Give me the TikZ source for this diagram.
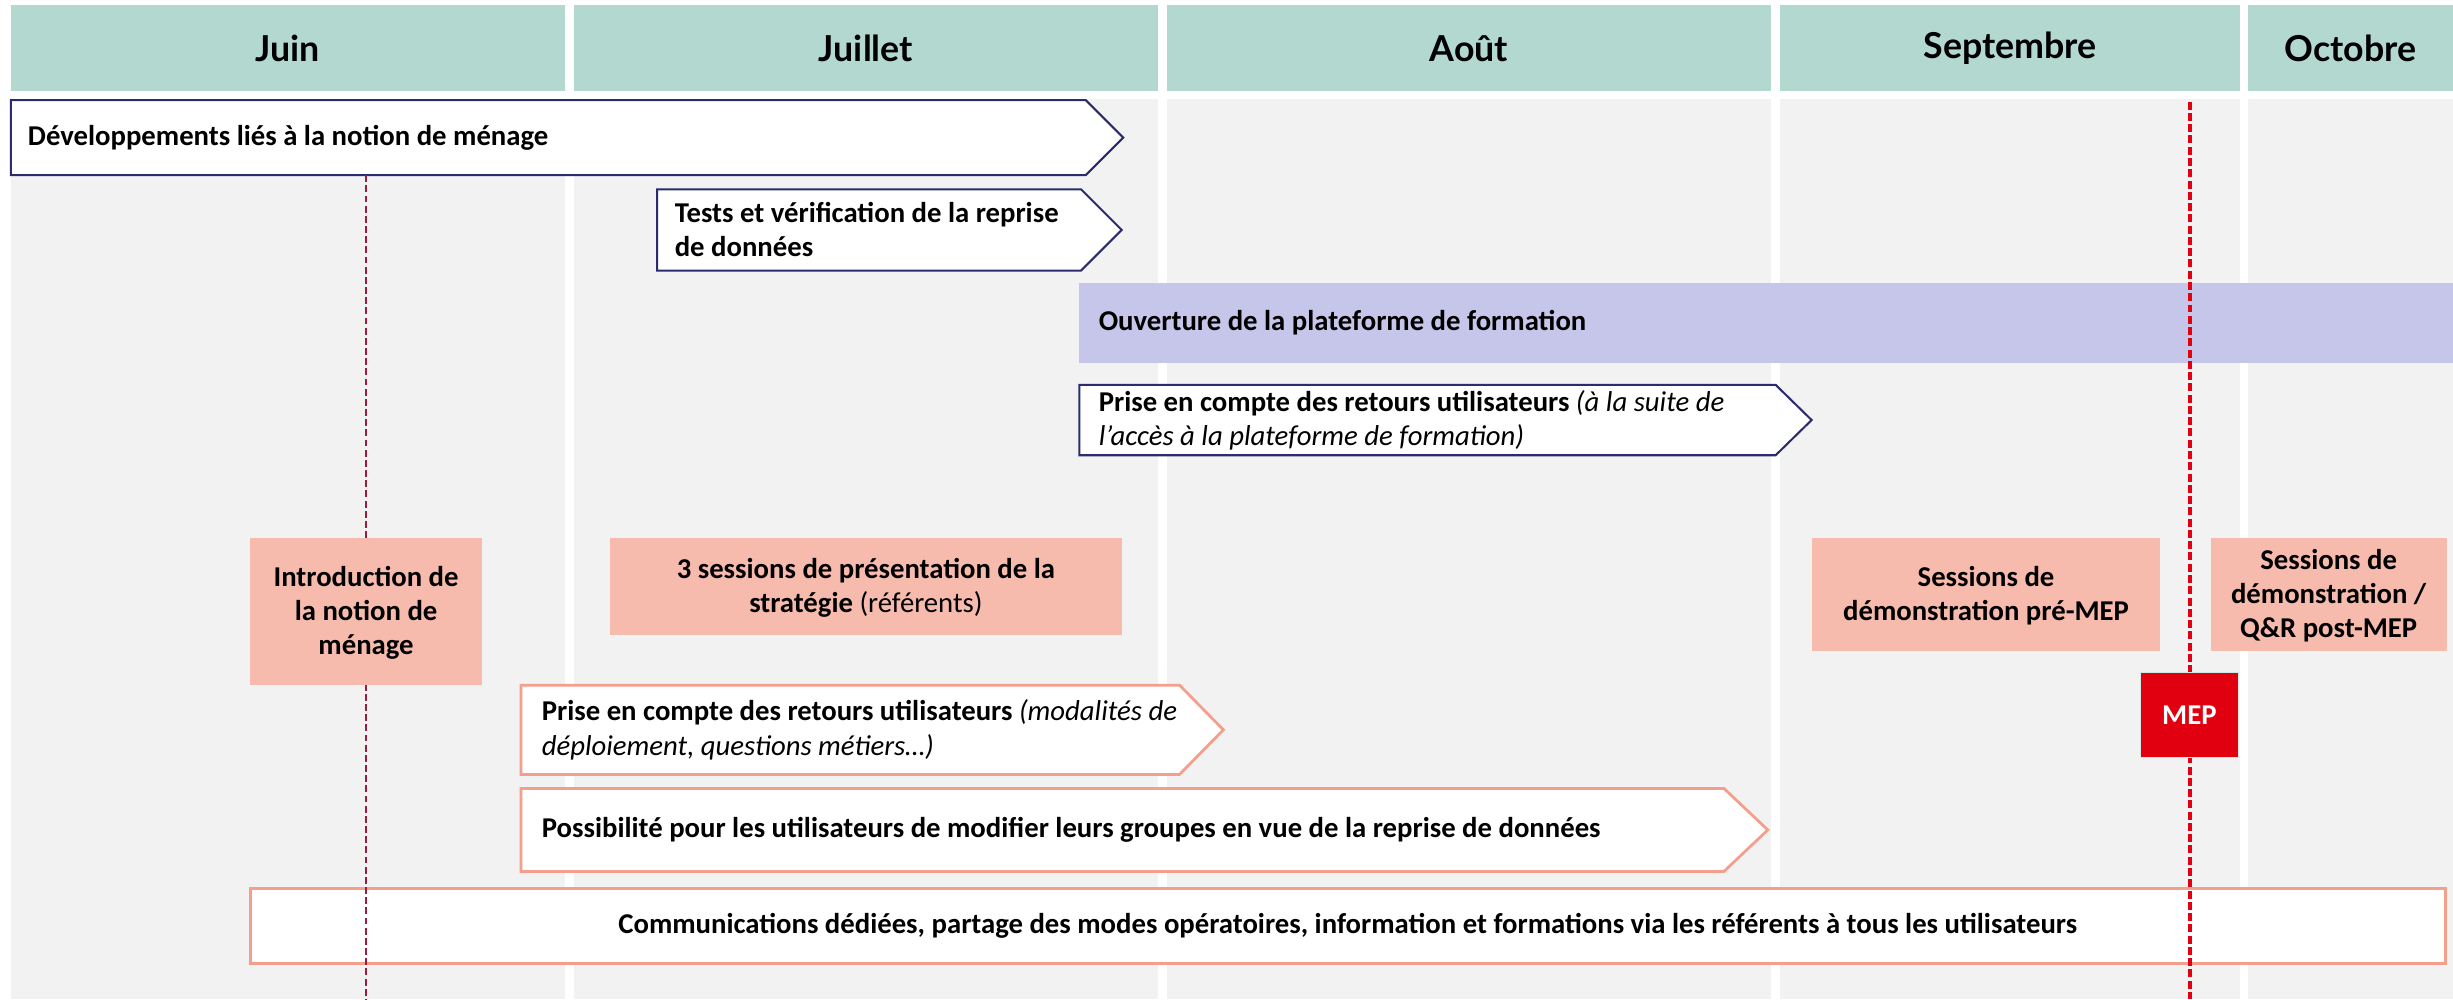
\documentclass[tikz,border=0pt]{standalone}
\usepackage{fontspec}
\setmainfont{Carlito}
\newfontfamily\moisfont{Lato}
\usepackage{xcolor}
\definecolor{tteal}{HTML}{B2D8D0}
\definecolor{ggris}{HTML}{F2F2F2}
\definecolor{nnavy}{HTML}{2A2C6B}
\definecolor{llavande}{HTML}{C5C6E9}
\definecolor{ssaumon}{HTML}{F7BBAD}
\definecolor{ssaumonf}{HTML}{F49E8C}
\definecolor{rrouge}{HTML}{E1000F}
\definecolor{bbordeaux}{HTML}{9B1C3C}
\usepackage{tikz}
\usetikzlibrary{positioning}

\begin{document}
\begin{tikzpicture}[
    x=0.02cm, y=-0.02cm,
    mois/.style={font=\moisfont\bfseries\fontsize{13}{15}\selectfont},
    txt/.style={font=\fontsize{10.45}{12.4}\selectfont\bfseries, inner sep=0pt, align=left, anchor=west},
    ctxt/.style={font=\fontsize{10.45}{12.4}\selectfont\bfseries, inner sep=0pt, align=center},
    navyarrow/.style={draw=nnavy, fill=white, line width=0.75pt},
    saumonarrow/.style={draw=ssaumonf, fill=white, line width=1pt},
  ]
  \useasboundingbox[fill=white] (0,0) rectangle (1568,638.6);
  % mois
  \foreach \xa/\xb/\mois/\id in {7/361/Juin/jun, 367/740/Juillet/jul, 746/1132/Août/aou, 1138/1432/Septembre/sep, 1437/1568/Octobre/oct}{
    \fill[ggris] (\xa,63.5) rectangle (\xb,638.6);
    \fill[tteal] (\xa,3.2) rectangle (\xb,58);
    \node[mois] (mois-\id) at ({(\xa+\xb)/2},31) {\mois};
  }
  % phases
  \draw[navyarrow] (7,64) -- (694,64) -- (718,88) -- (694,112) -- (7,112) -- cycle;
  \node[txt] (dev) at (17.5,88) {Développements liés à la notion de ménage};
  \draw[navyarrow] (420,121) -- (691,121) -- (717,147) -- (691,173) -- (420,173) -- cycle;
  \node[txt] (tests) at (431,147) {Tests et vérification de la reprise\\de données};
  \fill[llavande] (690,181) rectangle (1568,232);
  \node[txt] (ouverture) at (702,206) {Ouverture de la plateforme de formation};
  \draw[navyarrow] (690,246) -- (1135,246) -- (1158,268.5) -- (1135,291) -- (690,291) -- cycle;
  \node[txt] (retours1) at (702,268.5) {Prise en compte des retours utilisateurs {\mdseries\itshape (à la suite de}\\{\mdseries\itshape l’accès à la plateforme de formation)}};
  \draw[saumonarrow] (333,438) -- (754,438) -- (782,466.5) -- (754,495) -- (333,495) -- cycle;
  \node[txt] (retours2) at (346,466.5) {Prise en compte des retours utilisateurs {\mdseries\itshape (modalités de}\\{\mdseries\itshape déploiement, questions métiers…)}};
  \draw[saumonarrow] (333,504) -- (1102,504) -- (1130,530.5) -- (1102,557) -- (333,557) -- cycle;
  \node[txt] (groupes) at (346,530.5) {Possibilité pour les utilisateurs de modifier leurs groupes en vue de la reprise de données};
  \draw[saumonarrow] (160,568) rectangle (1563,616);
  \node[ctxt] (comm) at (861.5,592) {Communications dédiées, partage des modes opératoires, information et formations via les référents à tous les utilisateurs};
  % jalons
  \draw[bbordeaux, line width=0.5pt, dash pattern=on 2.5pt off 1.2pt] (234,112) -- (234,638.6);
  \fill[ssaumon] (160,344) rectangle (308,438);
  \node[ctxt] (intro) at (234,392) {Introduction de\\la notion de\\ménage};
  \fill[ssaumon] (390,344) rectangle (717,406);
  \node[ctxt] (strategie) at (553.5,376) {3 sessions de présentation de la\\stratégie {\mdseries (référents)}};
  \fill[ssaumon] (1158,344) rectangle (1381,416);
  \node[ctxt] (premep) at (1269.5,381) {Sessions de\\démonstration pré-MEP};
  \fill[ssaumon] (1413,344) rectangle (1564,416);
  \node[ctxt] (postmep) at (1488.5,381) {Sessions de\\démonstration /\\Q\&R post-MEP};
  \draw[rrouge, line width=1.4pt, dash pattern=on 2.9pt off 1.2pt] (1400,65) -- (1400,638.6);
  \filldraw[fill=rrouge, draw=tteal!60, line width=0.4pt] (1368,430) rectangle (1431,484);
  \node[ctxt, text=white] (mep) at (1399.5,457) {MEP};
\end{tikzpicture}
\end{document}
